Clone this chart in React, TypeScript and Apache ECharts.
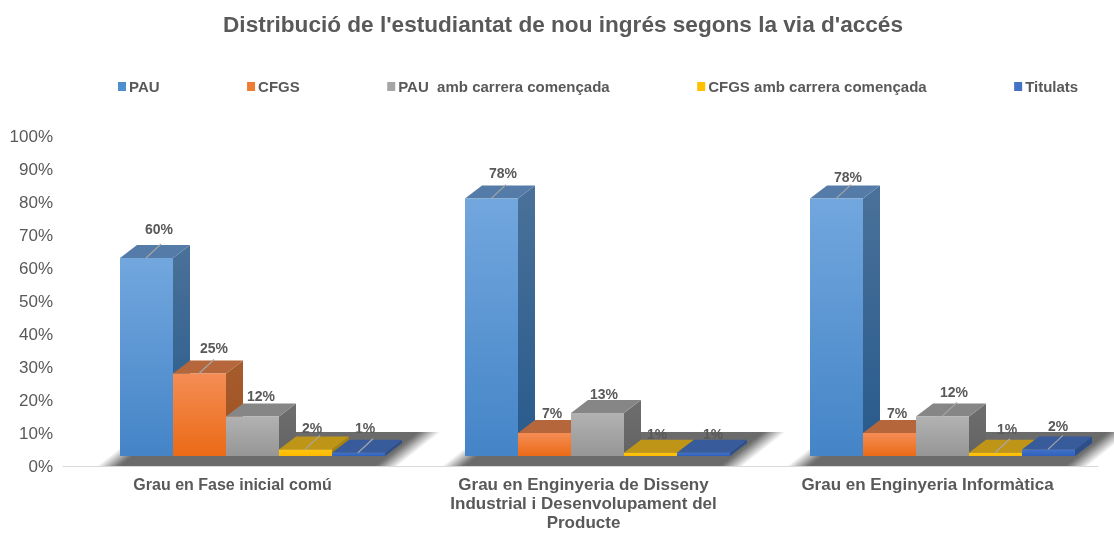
import React, { useEffect, useRef } from "react";
import * as echarts from "echarts";

const categories = ["Grau en Fase inicial comú", "Grau en Enginyeria de Disseny\nIndustrial i Desenvolupament del\nProducte", "Grau en Enginyeria Informàtica"];
const seriesNames = ["PAU", "CFGS", "PAU  amb carrera començada", "CFGS amb carrera començada", "Titulats"];
const pau = [60, 78, 78];
const cfgs = [25, 7, 7];
const pauCont = [12, 13, 12];
const cfgsCont = [2, 1, 1];
const titulats = [1, 1, 2];
const values = [pau, cfgs, pauCont, cfgsCont, titulats];
const leaders = [[1, 1, 1], [1, 0, 0], [0, 0, 1], [1, 0, 1], [1, 0, 1]];

// label placement relative to the bar's front-top-left corner
const labelDx = [[39, 38, 38], [41, 34, 34], [35, 33, 38], [33, 33, 38], [33, 36, 36]];
const labelDy = [[-29, -26, -22], [-26, -20, -20], [-20, -19, -24], [-21, -19, -24], [-25, -19, -23]];
// per-category axis label tweaks
const catFontSize = [16, 17, 17];
const catPadding = [[0, 6, 0, 0], [0, 0, 0, 6], [0, 0, 0, 4]];

const palette = [
  { legend: "#4f8fd0", f0: "#72a7de", f1: "#4484c7", side0: "#4a7199", side1: "#275a8c", top: "#557ca8" },
  { legend: "#ed7d31", f0: "#f48d55", f1: "#eb6a16", side0: "#a65c2e", side1: "#a0521f", top: "#b5673b" },
  { legend: "#a5a5a5", f0: "#b2b2b2", f1: "#969696", side0: "#6e6e6e", side1: "#636363", top: "#868686" },
  { legend: "#ffc000", f0: "#ffc60f", f1: "#fdb900", side0: "#a5820c", side1: "#a5820c", top: "#bf9518" },
  { legend: "#4472c4", f0: "#4272c8", f1: "#2f62bd", side0: "#2c4f8c", side1: "#2c4f8c", top: "#385b9c" },
];

const FONT = "'Liberation Sans', Arial, sans-serif";
const TEXT = "#595959";
const FLOOR = "#6b6b6b";

// 3-D projection of the chart (pixels)
const DEPTH_X = 17;
const DEPTH_Y = 13;
const FLOOR_LIFT = 10;
const BAR_W = 53;
const GROUP_SHIFT = -115.5;

export default function App() {
  const ref = useRef<HTMLDivElement>(null);
  useEffect(() => {
    const chart = echarts.init(ref.current!, null, { renderer: "svg" });
    const floorSeries: any = {
      type: "custom",
      silent: true,
      z: 1,
      data: categories.map((_, i) => [i]),
      clip: false,
      renderItem: (_p: any, api: any) => {
        const c = api.coord([api.value(0), 0]);
        const l = c[0] + GROUP_SHIFT - 23;
        const r = c[0] + GROUP_SHIFT + 267;
        const y0 = c[1];
        const y1 = y0 - 34;
        const fade = 22;
        const nx = 8.5;
        const ny = 10.7;
        const grad = (x: number, y: number, dx: number, dy: number, a: string, b: string) => ({
          type: "linear", global: true, x, y, x2: x + dx, y2: y + dy,
          colorStops: [{ offset: 0, color: a }, { offset: 1, color: b }],
        });
        const clear = "rgba(107,107,107,0)";
        return {
          type: "group",
          children: [
            {
              type: "polygon",
              shape: { points: [[l + fade - 0.5, y0], [r - fade / 2 + 0.5, y0], [r + 43 - fade / 2 + 0.5, y1], [l + 43 + fade - 0.5, y1]] },
              style: { fill: FLOOR },
            },
            {
              type: "polygon",
              shape: { points: [[l, y0], [l + fade, y0], [l + 43 + fade, y1], [l + 43, y1]] },
              style: { fill: grad(l, y0, nx, ny, clear, FLOOR) },
            },
            {
              type: "polygon",
              shape: { points: [[r - fade / 2, y0], [r + fade / 2, y0], [r + 43 + fade / 2, y1], [r + 43 - fade / 2, y1]] },
              style: { fill: grad(r - fade / 2, y0, nx, ny, FLOOR, clear) },
            },
          ],
        };
      },
    };
    const barSeries = seriesNames.map((name, s) => ({
      type: "custom",
      name,
      z: 2 + s,
      clip: false,
      itemStyle: { color: palette[s].legend },
      data: categories.map((_, i) => [i, values[s][i]]),
      renderItem: (_p: any, api: any) => {
        const i = api.value(0);
        const v = api.value(1);
        const c = api.coord([i, v]);
        const c0 = api.coord([i, 0]);
        const x = c[0] + GROUP_SHIFT + s * BAR_W;
        const base = c0[1] - FLOOR_LIFT;
        const top = c[1] - FLOOR_LIFT;
        const col = palette[s];
        const lg = (a: string, b: string) => ({
          type: "linear", x: 0, y: 0, x2: 0, y2: 1,
          colorStops: [{ offset: 0, color: a }, { offset: 1, color: b }],
        });
        const children: any[] = [
          { type: "polygon", shape: { points: [[x + BAR_W, top], [x + BAR_W + DEPTH_X, top - DEPTH_Y], [x + BAR_W + DEPTH_X, base - DEPTH_Y], [x + BAR_W, base]] }, style: { fill: lg(col.side0, col.side1) } },
          { type: "polygon", shape: { points: [[x, top], [x + DEPTH_X, top - DEPTH_Y], [x + BAR_W + DEPTH_X, top - DEPTH_Y], [x + BAR_W, top]] }, style: { fill: col.top } },
          { type: "rect", shape: { x, y: top, width: BAR_W, height: base - top }, style: { fill: lg(col.f0, col.f1) } },
        ];
        if (leaders[s][i]) {
          children.push({ type: "line", shape: { x1: x + 26, y1: top, x2: x + 41, y2: top - 14 }, style: { stroke: "#a6a6a6", lineWidth: 1.2 } });
        }
        children.push({
          type: "text",
          style: { text: v + "%", x: x + labelDx[s][i], y: top + labelDy[s][i], align: "center", verticalAlign: "middle", font: `bold 14px ${FONT}`, fill: TEXT },
        });
        return { type: "group", children };
      },
    }));
    chart.setOption({
      animation: false,
      title: {
        text: "Distribució de l'estudiantat de nou ingrés segons la via d'accés",
        left: 558, top: 8, textAlign: "center",
        textStyle: { fontFamily: FONT, fontWeight: "bold", fontSize: 22.6, color: TEXT },
      },
      legend: {
        data: seriesNames,
        left: 113, top: 74, icon: "rect", itemWidth: 8, itemHeight: 9, itemGap: 87.5,
        textStyle: { fontFamily: FONT, fontWeight: "bold", fontSize: 15, color: TEXT, padding: [0, 0, 0, -2] },
      },
      grid: { left: 63, width: 1035, top: 136, height: 330, outerBoundsMode: "none" },
      xAxis: {
        type: "category",
        data: categories.map((value, i) => ({ value, textStyle: { fontSize: catFontSize[i], padding: catPadding[i] } })),
        axisTick: { show: false },
        axisLine: { lineStyle: { color: "#d9d9d9" } },
        axisLabel: { interval: 0, margin: 9, fontFamily: FONT, fontWeight: "bold", lineHeight: 19, color: TEXT },
      },
      yAxis: {
        type: "value", min: 0, max: 100, interval: 10,
        splitLine: { show: false }, axisLine: { show: false }, axisTick: { show: false },
        axisLabel: { formatter: "{value}%", margin: 10, fontFamily: FONT, fontSize: 17, color: TEXT },
      },
      series: [floorSeries, ...barSeries],
    });
    return () => chart.dispose();
  }, []);
  return <div ref={ref} style={{ position: "fixed", left: 0, top: 0, width: 1114, height: 533 }} />;
}
